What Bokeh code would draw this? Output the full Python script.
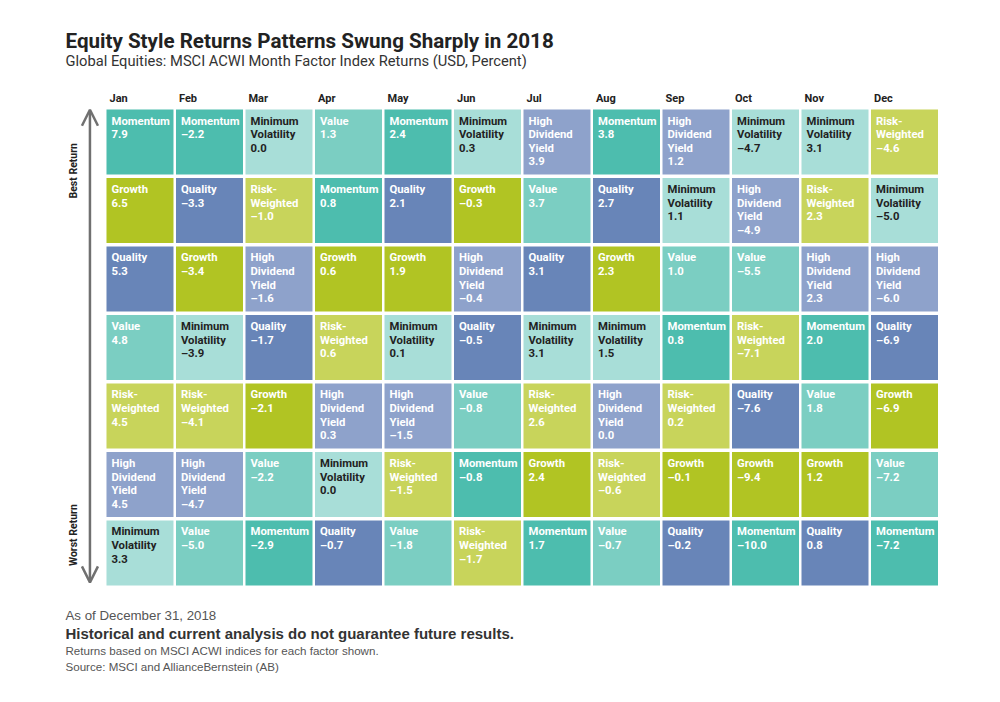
from bokeh.plotting import figure
from bokeh.models import ColumnDataSource, Range1d, Label, Arrow, OpenHead
from bokeh.core.properties import value
from bokeh.embed import file_html
from bokeh.resources import INLINE
import math

months = ["Jan", "Feb", "Mar", "Apr", "May", "Jun", "Jul", "Aug", "Sep", "Oct", "Nov", "Dec"]

# Factors ranked best (top) to worst (bottom) for each month, with returns (%)
jan_factors = ["Momentum", "Growth", "Quality", "Value", "Risk-Weighted", "High Dividend Yield", "Minimum Volatility"]
jan_returns = [7.9, 6.5, 5.3, 4.8, 4.5, 4.5, 3.3]
feb_factors = ["Momentum", "Quality", "Growth", "Minimum Volatility", "Risk-Weighted", "High Dividend Yield", "Value"]
feb_returns = [-2.2, -3.3, -3.4, -3.9, -4.1, -4.7, -5.0]
mar_factors = ["Minimum Volatility", "Risk-Weighted", "High Dividend Yield", "Quality", "Growth", "Value", "Momentum"]
mar_returns = [0.0, -1.0, -1.6, -1.7, -2.1, -2.2, -2.9]
apr_factors = ["Value", "Momentum", "Growth", "Risk-Weighted", "High Dividend Yield", "Minimum Volatility", "Quality"]
apr_returns = [1.3, 0.8, 0.6, 0.6, 0.3, 0.0, -0.7]
may_factors = ["Momentum", "Quality", "Growth", "Minimum Volatility", "High Dividend Yield", "Risk-Weighted", "Value"]
may_returns = [2.4, 2.1, 1.9, 0.1, -1.5, -1.5, -1.8]
jun_factors = ["Minimum Volatility", "Growth", "High Dividend Yield", "Quality", "Value", "Momentum", "Risk-Weighted"]
jun_returns = [0.3, -0.3, -0.4, -0.5, -0.8, -0.8, -1.7]
jul_factors = ["High Dividend Yield", "Value", "Quality", "Minimum Volatility", "Risk-Weighted", "Growth", "Momentum"]
jul_returns = [3.9, 3.7, 3.1, 3.1, 2.6, 2.4, 1.7]
aug_factors = ["Momentum", "Quality", "Growth", "Minimum Volatility", "High Dividend Yield", "Risk-Weighted", "Value"]
aug_returns = [3.8, 2.7, 2.3, 1.5, 0.0, -0.6, -0.7]
sep_factors = ["High Dividend Yield", "Minimum Volatility", "Value", "Momentum", "Risk-Weighted", "Growth", "Quality"]
sep_returns = [1.2, 1.1, 1.0, 0.8, 0.2, -0.1, -0.2]
oct_factors = ["Minimum Volatility", "High Dividend Yield", "Value", "Risk-Weighted", "Quality", "Growth", "Momentum"]
oct_returns = [-4.7, -4.9, -5.5, -7.1, -7.6, -9.4, -10.0]
nov_factors = ["Minimum Volatility", "Risk-Weighted", "High Dividend Yield", "Momentum", "Value", "Growth", "Quality"]
nov_returns = [3.1, 2.3, 2.3, 2.0, 1.8, 1.2, 0.8]
dec_factors = ["Risk-Weighted", "Minimum Volatility", "High Dividend Yield", "Quality", "Growth", "Value", "Momentum"]
dec_returns = [-4.6, -5.0, -6.0, -6.9, -6.9, -7.2, -7.2]

all_factors = [jan_factors, feb_factors, mar_factors, apr_factors, may_factors, jun_factors,
               jul_factors, aug_factors, sep_factors, oct_factors, nov_factors, dec_factors]
all_returns = [jan_returns, feb_returns, mar_returns, apr_returns, may_returns, jun_returns,
               jul_returns, aug_returns, sep_returns, oct_returns, nov_returns, dec_returns]

factor_colors = {
    "Momentum": "#4dbdae",
    "Growth": "#b1c423",
    "Quality": "#6885b8",
    "Value": "#7bcec2",
    "Risk-Weighted": "#c8d45b",
    "High Dividend Yield": "#8ea2cb",
    "Minimum Volatility": "#a8ded8",
}
factor_text_colors = {f: "#ffffff" for f in factor_colors}
factor_text_colors["Minimum Volatility"] = "#222222"
factor_display = {
    "Momentum": "Momentum",
    "Growth": "Growth",
    "Quality": "Quality",
    "Value": "Value",
    "Risk-Weighted": "Risk-\nWeighted",
    "High Dividend Yield": "High\nDividend\nYield",
    "Minimum Volatility": "Minimum\nVolatility",
}

CELL_W = 0.964
CELL_H = 0.949
n_rows = 7

xs, ys, colors, labels, tcolors, lx, ly = [], [], [], [], [], [], []
for i, (facs, rets) in enumerate(zip(all_factors, all_returns)):
    for r, (f, v) in enumerate(zip(facs, rets)):
        xs.append(i)
        ys.append(r)
        colors.append(factor_colors[f])
        tcolors.append(factor_text_colors[f])
        labels.append(factor_display[f] + "\n" + f"{v:.1f}".replace("-", "\u2013"))
        lx.append(i - CELL_W / 2)
        ly.append(r - CELL_H / 2)

src = ColumnDataSource(dict(x=xs, y=ys, color=colors, label=labels, tcolor=tcolors, lx=lx, ly=ly))

W, H = 984, 686
p = figure(width=W, height=H, output_backend="svg", toolbar_location=None,
           x_range=Range1d(-2.007, 12.151), y_range=Range1d(7.95, -2.066),
           min_border=0, background_fill_color="white", border_fill_color="white")
p.axis.visible = False
p.grid.visible = False
p.outline_line_color = None

p.rect(x="x", y="y", width=CELL_W, height=CELL_H, fill_color="color", line_color=None, source=src)
p.text(x="lx", y="ly", text="label", text_color="tcolor", source=src,
       x_offset=5, y_offset=5, text_font=value("Roboto"), text_font_style="bold",
       text_font_size="11.3px", text_baseline="top", text_align="left", text_line_height=1.05)

# Month headers
msrc = ColumnDataSource(dict(x=[i - CELL_W / 2 for i in range(len(months))],
                             y=[-0.635] * len(months), t=months))
p.text(x="x", y="y", text="t", source=msrc, x_offset=3, text_font=value("Roboto"),
       text_font_style="bold", text_font_size="11px", text_color="#222222",
       text_baseline="middle", text_align="left")

# Best / worst arrow
ax = -0.72
p.add_layout(Arrow(x_start=ax, y_start=n_rows - 1 + 0.43, x_end=ax, y_end=-0.47,
                   line_color="#707070", line_width=2.5,
                   start=OpenHead(size=16, line_color="#707070", line_width=2.5),
                   end=OpenHead(size=16, line_color="#707070", line_width=2.5)))
p.add_layout(Label(x=-0.95, y=0.42, text="Best Return", angle=math.pi / 2,
                   text_font="Roboto", text_font_style="bold", text_font_size="10.5px",
                   text_color="#222222", text_align="center", text_baseline="middle"))
p.add_layout(Label(x=-0.95, y=5.74, text="Worst Return", angle=math.pi / 2,
                   text_font="Roboto", text_font_style="bold", text_font_size="10.5px",
                   text_color="#222222", text_align="center", text_baseline="middle"))

# Title and subtitle
left = -1.072
p.add_layout(Label(x=left, y=-1.48, text="Equity Style Returns Patterns Swung Sharply in 2018",
                   text_font="Roboto", text_font_style="bold", text_font_size="20.6px",
                   text_color="#222222", text_baseline="middle"))
p.add_layout(Label(x=left, y=-1.18, text="Global Equities: MSCI ACWI Month Factor Index Returns (USD, Percent)",
                   text_font="Roboto", text_font_style="normal", text_font_size="14.7px",
                   text_color="#333333", text_baseline="middle"))

# Footer
p.add_layout(Label(x=left, y=6.91, text="As of December 31, 2018",
                   text_font="Liberation Sans", text_font_size="13.3px",
                   text_color="#555555", text_baseline="middle"))
p.add_layout(Label(x=left, y=7.17, text="Historical and current analysis do not guarantee future results.",
                   text_font="Liberation Sans", text_font_style="bold", text_font_size="15px",
                   text_color="#333333", text_baseline="middle"))
p.add_layout(Label(x=left, y=7.42, text="Returns based on MSCI ACWI indices for each factor shown.",
                   text_font="Liberation Sans", text_font_size="11.6px",
                   text_color="#555555", text_baseline="middle"))
p.add_layout(Label(x=left, y=7.66, text="Source: MSCI and AllianceBernstein (AB)",
                   text_font="Liberation Sans", text_font_size="11.6px",
                   text_color="#555555", text_baseline="middle"))

open("out.html", "w").write(file_html(p, INLINE))
